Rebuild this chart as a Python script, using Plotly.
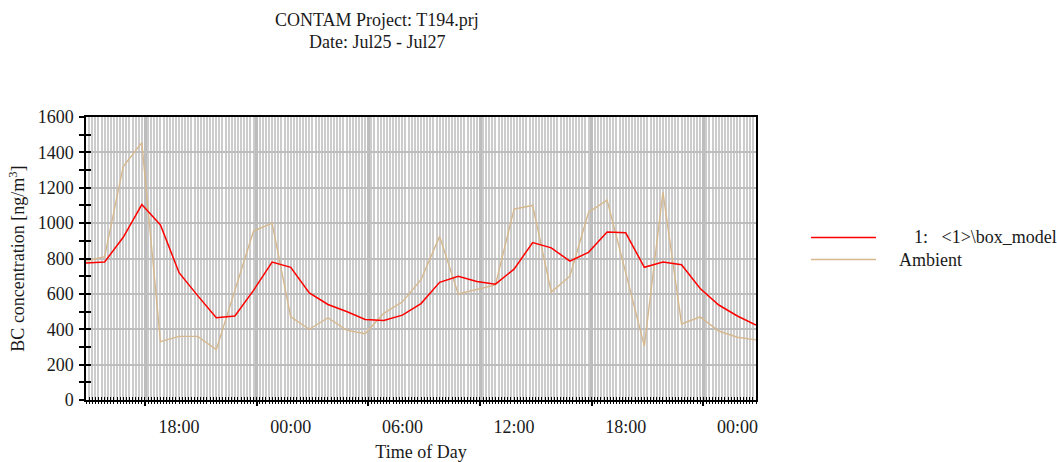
import plotly.graph_objects as go

# ---- data (hours counted from 00:00 of Jul 25; 24 = 00:00 Jul 26) ----
hours = [13, 14, 15, 16, 17, 18, 19, 20, 21, 22, 23, 24, 25, 26, 27, 28, 29, 30, 31,
         32, 33, 34, 35, 36, 37, 38, 39, 40, 41, 42, 43, 44, 45, 46, 47, 48, 49]
box_model = [775, 780, 920, 1105, 990, 720, 590, 465, 475, 620, 780, 750, 605, 540, 500,
             455, 450, 480, 545, 665, 700, 670, 655, 740, 890, 860, 785, 835, 950, 945,
             750, 780, 765, 630, 537, 475, 424]
ambient = [786, 810, 1320, 1455, 330, 360, 360, 285, 620, 955, 1000, 470, 400, 465, 395,
           375, 490, 555, 680, 925, 600, 625, 650, 1080, 1100, 610, 700, 1060, 1130, 720,
           305, 1175, 430, 470, 390, 355, 340]

label_hours = [18, 24, 30, 36, 42, 48]
label_text = ["18:00", "00:00", "06:00", "12:00", "18:00", "00:00"]
grid_hours = [16.17, 22.17, 28.17, 34.17, 40.17, 46.17]

x_range = [13, 49]
y_range = [0, 1600]

FONT = "Liberation Serif"
TXT = "#1a1a1a"
FS = 18

fig = go.Figure()
fig.add_trace(go.Scatter(x=hours, y=ambient, mode="lines", name="Ambient",
                         line=dict(color="#d6b88e", width=1.4), xaxis="x", yaxis="y"))
fig.add_trace(go.Scatter(x=hours, y=box_model, mode="lines", name="1:   <1>\\box_model",
                         line=dict(color="#ff0000", width=1.5), xaxis="x", yaxis="y"))
# empty traces to keep the overlay axes alive
fig.add_trace(go.Scatter(x=[None], y=[None], xaxis="x2", yaxis="y", showlegend=False))
fig.add_trace(go.Scatter(x=[None], y=[None], xaxis="x3", yaxis="y2", showlegend=False))

fig.update_layout(
    width=1057, height=462,
    margin=dict(l=86, r=301, t=117, b=62),
    paper_bgcolor="white", plot_bgcolor="white",
    showlegend=False,
    font=dict(family=FONT, size=FS, color=TXT),
    xaxis=dict(range=x_range, tickvals=label_hours, ticktext=label_text, automargin=False,
               ticks="", showgrid=False, zeroline=False, ticklabelstandoff=10,
               showline=True, linecolor="black", linewidth=1.5, mirror=True,
               tickfont=dict(family=FONT, size=FS, color=TXT),
               title=dict(text="Time of Day", font=dict(family=FONT, size=FS, color=TXT),
                          standoff=12)),
    xaxis2=dict(range=x_range, overlaying="x", side="bottom", anchor="y", automargin=False,
                tickvals=grid_hours, showticklabels=False,
                ticks="outside", ticklen=5, tickcolor="black", tickwidth=1.5,
                showgrid=True, gridcolor="#bdbdbd", gridwidth=2.5, zeroline=False,
                minor=dict(tick0=13, dtick=1/6, ticks="outside", ticklen=3,
                           tickcolor="black", tickwidth=1,
                           showgrid=True, gridcolor="#cccccc", gridwidth=1.8)),
    xaxis3=dict(range=x_range, overlaying="x", side="bottom", anchor="y2", automargin=False,
                showticklabels=False, tick0=13, dtick=1/6, ticks="inside", ticklen=3,
                tickcolor="black", tickwidth=1, showgrid=False, zeroline=False),
    yaxis=dict(range=y_range, dtick=200, ticks="outside", ticklen=5, tickcolor="black",
               tickwidth=1.5, showgrid=True, gridcolor="#bdbdbd", gridwidth=1.5,
               zeroline=False, showline=True, linecolor="black", linewidth=1.5, mirror=True,
               automargin=False,
               tickfont=dict(family=FONT, size=FS, color=TXT), ticklabelstandoff=2,
               minor=dict(dtick=100, ticks="outside", ticklen=5, tickcolor="black",
                          tickwidth=1.5, showgrid=False),
               title=dict(text="BC concentration [ng/m<sup>3</sup>]",
                          font=dict(family=FONT, size=FS, color=TXT), standoff=8)),
    yaxis2=dict(range=y_range, overlaying="y", side="left", anchor="x3", automargin=False,
                showticklabels=False, dtick=100, ticks="inside", ticklen=5,
                tickcolor="black", tickwidth=1.5, showgrid=False, zeroline=False),
)

# titles
fig.add_annotation(text="CONTAM Project: T194.prj", xref="paper", yref="paper",
                   x=(377 - 86) / 670, y=(400 - 20) / 283, showarrow=False,
                   xanchor="center", yanchor="middle",
                   font=dict(family=FONT, size=FS, color=TXT))
fig.add_annotation(text="Date: Jul25 - Jul27", xref="paper", yref="paper",
                   x=(377 - 86) / 670, y=(400 - 42) / 283, showarrow=False,
                   xanchor="center", yanchor="middle",
                   font=dict(family=FONT, size=FS, color=TXT))

# legend (drawn manually)
def px_x(p):
    return (p - 86) / 670

def px_y(p):
    return (400 - p) / 283

fig.add_shape(type="line", xref="paper", yref="paper", x0=px_x(811), x1=px_x(876),
              y0=px_y(237.5), y1=px_y(237.5), line=dict(color="#ff0000", width=1.5))
fig.add_shape(type="line", xref="paper", yref="paper", x0=px_x(811), x1=px_x(876),
              y0=px_y(259.5), y1=px_y(259.5), line=dict(color="#d6b88e", width=1.5))
fig.add_annotation(text="1:\u00a0\u00a0\u00a0&lt;1&gt;\\box_model", xref="paper", yref="paper",
                   x=px_x(912), y=px_y(237), showarrow=False, xanchor="left",
                   yanchor="middle", font=dict(family=FONT, size=FS, color=TXT))
fig.add_annotation(text="Ambient", xref="paper", yref="paper",
                   x=px_x(897), y=px_y(260), showarrow=False, xanchor="left",
                   yanchor="middle", font=dict(family=FONT, size=FS, color=TXT))

fig.write_html("out.html")
